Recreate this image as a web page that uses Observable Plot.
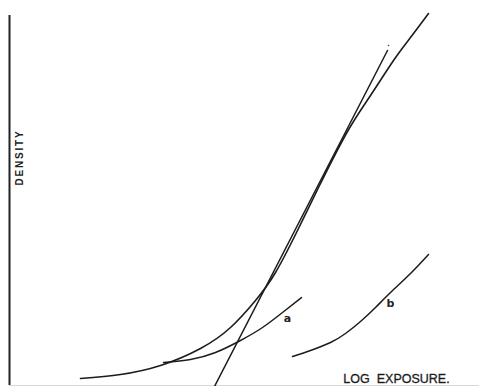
<!DOCTYPE html>
<html>
<head>
<meta charset="utf-8">
<script src="https://cdn.jsdelivr.net/npm/d3@7"></script>
<script src="https://cdn.jsdelivr.net/npm/@observablehq/plot@0.6"></script>
<style>
  html, body { margin: 0; padding: 0; background: #fff; }
  #chart svg { display: block; }
</style>
</head>
<body>
<div id="chart"></div>
<script>
// Log exposure (x) and density (y), arbitrary units
const mainX = [0.71, 1.11, 1.51, 1.91, 2.21, 2.46, 2.66, 2.88, 3.10, 3.38, 3.61, 3.84, 4.01, 4.19];
const mainY = [0.07, 0.11, 0.20, 0.37, 0.58, 0.85, 1.13, 1.55, 2.00, 2.54, 2.90, 3.25, 3.48, 3.72];

const lineX = [2.05, 3.78];
const lineY = [-0.01, 3.35];
const dotX = [3.79];
const dotY = [3.40];

const aX = [1.54, 1.81, 2.06, 2.31, 2.53, 2.73, 2.92];
const aY = [0.23, 0.26, 0.33, 0.45, 0.58, 0.73, 0.88];

const bX = [2.83, 3.01, 3.21, 3.36, 3.51, 3.66, 3.81, 4.01, 4.19];
const bY = [0.29, 0.35, 0.43, 0.52, 0.64, 0.78, 0.93, 1.12, 1.31];

const curveLabels = ["a", "b"];
const curveLabelX = [2.78, 3.81];
const curveLabelY = [0.67, 0.82];

const yAxisTitle = "DENSITY";
const xAxisTitle = "LOG\u00a0\u00a0EXPOSURE.";

const zip = (xs, ys) => xs.map((x, i) => ({x, y: ys[i]}));

const chart = Plot.plot({
  width: 479,
  height: 386,
  marginLeft: 9,
  marginRight: 0,
  marginTop: 0,
  marginBottom: 1,
  x: {domain: [0, 4.70], axis: null},
  y: {domain: [0, 3.85], axis: null},
  style: {background: "#fff"},
  marks: [
    Plot.ruleY([0], {stroke: "#d8d8d8", strokeWidth: 1}),
    Plot.ruleX([0], {y1: 0, y2: 3.71, stroke: "#222", strokeWidth: 2, insetBottom: -1}),
    Plot.line(zip(mainX, mainY), {x: "x", y: "y", curve: "natural", stroke: "#1c1c1c", strokeWidth: 1.6}),
    Plot.line(zip(lineX, lineY), {x: "x", y: "y", stroke: "#1c1c1c", strokeWidth: 1.5}),
    Plot.dot(zip(dotX, dotY), {x: "x", y: "y", r: 0.8, fill: "#444", stroke: null}),
    Plot.line(zip(aX, aY), {x: "x", y: "y", curve: "natural", stroke: "#1c1c1c", strokeWidth: 1.5}),
    Plot.line(zip(bX, bY), {x: "x", y: "y", curve: "natural", stroke: "#1c1c1c", strokeWidth: 1.5}),
    Plot.text(curveLabels.map((t, i) => ({t, x: curveLabelX[i], y: curveLabelY[i]})), {
      x: "x", y: "y", text: "t", fontSize: 11, fontWeight: "bold", fill: "#222",
      fontFamily: "DejaVu Sans"
    }),
    Plot.text([yAxisTitle], {
      x: 0.10, y: 2.28, rotate: -90, fontSize: 10, fontWeight: "bold", fill: "#222",
      fontFamily: "Liberation Sans"
    }),
    Plot.text([xAxisTitle], {
      x: 3.87, y: 0.07, fontSize: 12.5, fill: "#1c1c1c", stroke: "#1c1c1c", strokeWidth: 0.3,
      fontFamily: "Liberation Sans"
    })
  ]
});

// letter spacing for the rotated density title
chart.querySelectorAll("text").forEach(t => {
  if (t.textContent === yAxisTitle) t.setAttribute("letter-spacing", "1.8");
});

document.getElementById("chart").appendChild(chart);
</script>
</body>
</html>
